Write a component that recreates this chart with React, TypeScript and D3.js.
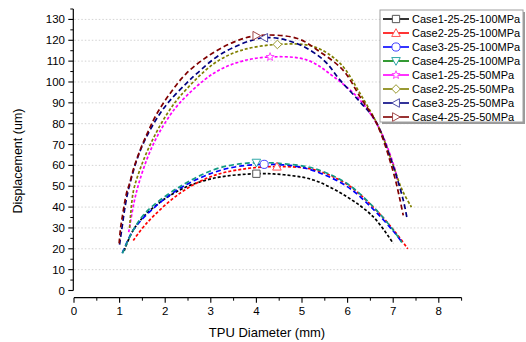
import React from "react";
import * as d3 from "d3";

const seriesNames = [
  "Case1-25-25-100MPa",
  "Case2-25-25-100MPa",
  "Case3-25-25-100MPa",
  "Case4-25-25-100MPa",
  "Case1-25-25-50MPa",
  "Case2-25-25-50MPa",
  "Case3-25-25-50MPa",
  "Case4-25-25-50MPa",
];

const c1_100_x = [1.1, 1.3, 1.67, 2.32, 3.05, 4.0, 4.6, 5.25, 5.98, 6.56, 7.0];
const c1_100_y = [19, 29, 38.5, 48.2, 53.8, 56, 55.5, 53, 45, 35.4, 22.6];
const c2_100_x = [1.3, 1.59, 2.32, 3.05, 3.8, 4.45, 5.25, 5.98, 6.56, 7.04, 7.32];
const c2_100_y = [24, 32.2, 46.6, 55, 58.5, 59.4, 58, 51, 40, 28.2, 20];
const c3_100_x = [1.06, 1.3, 1.67, 2.32, 3.05, 3.6, 4.17, 4.8, 5.25, 5.98, 6.56, 7.0, 7.2];
const c3_100_y = [18, 29, 38, 49, 56.5, 59.5, 60.5, 59.8, 57.5, 50, 39, 28.5, 23];
const c4_100_x = [1.06, 1.3, 1.59, 2.32, 3.05, 3.5, 4.0, 4.6, 5.25, 5.98, 6.56, 7.0, 7.19];
const c4_100_y = [17.8, 29, 37.8, 49.8, 57.8, 60.3, 61.3, 60.8, 58.6, 51.4, 40.2, 29, 23];
const c1_50_x = [1.2, 1.32, 1.43, 1.6, 1.78, 2.0, 2.32, 3.05, 3.64, 4.3, 5.1, 5.69, 6.27, 6.71, 7.04, 7.1];
const c1_50_y = [28, 42.6, 52, 63, 72, 80.5, 90, 104, 109.7, 112, 110.6, 102.6, 91.4, 77, 58, 52];
const c2_50_x = [1.22, 1.3, 1.43, 1.6, 1.81, 2.05, 2.32, 3.05, 3.64, 4.46, 5.25, 5.83, 6.27, 6.71, 7.0, 7.2, 7.4];
const c2_50_y = [30, 47.4, 57, 66.5, 76, 85, 93, 108.5, 115, 118, 117, 109, 94.6, 77, 60, 48, 40];
const c3_50_x = [1.0, 1.04, 1.16, 1.32, 1.47, 1.67, 1.89, 2.1, 2.47, 2.69, 3.27, 4.17, 4.88, 5.47, 5.83, 6.27, 6.6, 6.93, 7.22, 7.3];
const c3_50_y = [22, 28.2, 45, 58.6, 68, 77, 85, 91, 99.5, 104, 114, 121.2, 118.5, 110.6, 101, 90.5, 81.8, 64.2, 43.4, 35];
const c4_50_x = [0.99, 1.02, 1.06, 1.15, 1.22, 1.32, 1.48, 1.63, 1.81, 2.09, 2.46, 2.98, 3.49, 4.0, 4.88, 5.39, 5.9, 6.27, 6.64, 7.0, 7.15, 7.22];
const c4_50_y = [22.6, 29.8, 35.4, 46.6, 51.4, 59.4, 69, 76.5, 84.5, 94, 104, 113, 119, 122.2, 121, 114.5, 105.7, 93, 80, 57, 43.4, 36];

const seriesX = [c1_100_x, c2_100_x, c3_100_x, c4_100_x, c1_50_x, c2_50_x, c3_50_x, c4_50_x];
const seriesY = [c1_100_y, c2_100_y, c3_100_y, c4_100_y, c1_50_y, c2_50_y, c3_50_y, c4_50_y];
// marker positions (one per curve, near the peak)
const markerX = [4.0, 4.45, 4.17, 4.0, 4.3, 4.46, 4.17, 4.0];
const markerY = [56, 59.4, 60.5, 61.3, 112, 118, 121.2, 122.2];

const xTicks = [0, 1, 2, 3, 4, 5, 6, 7, 8];
const yTicks = [0, 10, 20, 30, 40, 50, 60, 70, 80, 90, 100, 110, 120, 130];

const lineColors = ["#000000", "#ff0000", "#0000ff", "#139a84", "#ff00ff", "#808000", "#000080", "#800000"];
const legendLineColors = ["#000000", "#ff0000", "#0000ff", "#008000", "#ff00ff", "#808000", "#000080", "#800000"];
const markerColors = ["#555555", "#ff5555", "#4040ff", "#30a8a8", "#ff40ff", "#9a9a30", "#5050a8", "#a04848"];
const markerShapes = ["square", "triangle", "circle", "triangleDown", "star", "diamond", "triangleLeft", "triangleRight"];
const dashes = ["3,2", "3,2", "5,3", "5,3", "3,2", "3,2", "5,3", "5,3"];

function markerPath(shape: string, cx: number, cy: number, r: number): string {
  const p = d3.path();
  if (shape === "square") {
    p.rect(cx - r * 0.85, cy - r * 0.85, r * 1.7, r * 1.7);
  } else if (shape === "circle") {
    p.arc(cx, cy, r * 0.95, 0, Math.PI * 2);
  } else if (shape === "triangle") {
    p.moveTo(cx, cy - r); p.lineTo(cx + r, cy + r * 0.8); p.lineTo(cx - r, cy + r * 0.8); p.closePath();
  } else if (shape === "triangleDown") {
    p.moveTo(cx, cy + r); p.lineTo(cx + r, cy - r * 0.8); p.lineTo(cx - r, cy - r * 0.8); p.closePath();
  } else if (shape === "triangleLeft") {
    p.moveTo(cx - r, cy); p.lineTo(cx + r * 0.8, cy - r); p.lineTo(cx + r * 0.8, cy + r); p.closePath();
  } else if (shape === "triangleRight") {
    p.moveTo(cx + r, cy); p.lineTo(cx - r * 0.8, cy - r); p.lineTo(cx - r * 0.8, cy + r); p.closePath();
  } else if (shape === "diamond") {
    p.moveTo(cx, cy - r); p.lineTo(cx + r, cy); p.lineTo(cx, cy + r); p.lineTo(cx - r, cy); p.closePath();
  } else if (shape === "star") {
    for (let i = 0; i < 10; i++) {
      const a = -Math.PI / 2 + (i * Math.PI) / 5;
      const rr = i % 2 === 0 ? r : r * 0.42;
      const px = cx + rr * Math.cos(a);
      const py = cy + rr * Math.sin(a);
      if (i === 0) p.moveTo(px, py); else p.lineTo(px, py);
    }
    p.closePath();
  }
  return p.toString();
}

export default function App() {
  const W = 526, H = 342;
  const x = d3.scaleLinear().domain([0, 8.5]).range([74, 461.6]);
  const y = d3.scaleLinear().domain([0, 135]).range([290.5, 9]);
  const axisY = 297.7;
  const axisX = 73.3;
  const font = "'Liberation Sans', Arial, sans-serif";

  const line = d3
    .line<[number, number]>()
    .x((d) => x(d[0]))
    .y((d) => y(d[1]))
    .curve(d3.curveCatmullRom.alpha(0.5));

  const xMinor = d3.range(0.5, 8.5, 1);
  const yMinor = d3.range(5, 136, 10);

  const legX = 380, legY = 10, legW = 143, legH = 112;

  return (
    <svg width={W} height={H} style={{ position: "absolute", left: 0, top: 0, background: "#fff" }}>
      <rect x={0} y={0} width={W} height={H} fill="#fff" />
      {/* gridlines */}
      {yTicks.filter((t) => t > 0).map((t) => (
        <line key={"g" + t} x1={axisX + 1} x2={461.6} y1={y(t)} y2={y(t)} stroke="#c8c8c8" strokeWidth={0.8} strokeDasharray="1.5,2" />
      ))}
      {/* y axis */}
      <line x1={axisX} x2={axisX} y1={y(0)} y2={y(135)} stroke="#000" strokeWidth={1.2} />
      {yTicks.map((t) => (
        <g key={"yt" + t}>
          <line x1={axisX - 5} x2={axisX} y1={y(t)} y2={y(t)} stroke="#000" strokeWidth={1.1} />
          <text x={65} y={y(t)} dy="0.35em" textAnchor="end" fontFamily={font} fontSize={11.5} fill="#000">{t}</text>
        </g>
      ))}
      {yMinor.map((t) => (
        <line key={"ym" + t} x1={axisX - 3} x2={axisX} y1={y(t)} y2={y(t)} stroke="#000" strokeWidth={1} />
      ))}
      {/* x axis */}
      <line x1={x(0)} x2={x(8.5)} y1={axisY} y2={axisY} stroke="#000" strokeWidth={1.2} />
      {xTicks.map((t) => (
        <g key={"xt" + t}>
          <line x1={x(t)} x2={x(t)} y1={axisY} y2={axisY + 5} stroke="#000" strokeWidth={1.1} />
          <text x={x(t)} y={315} textAnchor="middle" fontFamily={font} fontSize={11.5} fill="#000">{t}</text>
        </g>
      ))}
      {xMinor.map((t) => (
        <line key={"xm" + t} x1={x(t)} x2={x(t)} y1={axisY} y2={axisY + 3} stroke="#000" strokeWidth={1} />
      ))}
      <line x1={x(8.5)} x2={x(8.5)} y1={axisY} y2={axisY + 3} stroke="#000" strokeWidth={1} />
      {/* axis titles */}
      <text x={267} y={337} textAnchor="middle" fontFamily={font} fontSize={13} fill="#000">TPU Diameter (mm)</text>
      <text transform={`translate(22,161) rotate(-90)`} textAnchor="middle" fontFamily={font} fontSize={12.5} fill="#000">Displacement (um)</text>
      {/* curves */}
      {seriesX.map((xs, i) => {
        const pts: [number, number][] = xs.map((v, j) => [v, seriesY[i][j]]);
        return (
          <path key={"s" + i} d={line(pts) || ""} fill="none" stroke={lineColors[i]} strokeWidth={1.7} strokeDasharray={dashes[i]} />
        );
      })}
      {markerX.map((mx, i) => (
        <path key={"m" + i} d={markerPath(markerShapes[i], x(mx), y(markerY[i]), 4.3)} fill="#fff" stroke={markerColors[i]} strokeWidth={1} />
      ))}
      {/* legend */}
      <rect x={legX + 2} y={legY + 2} width={legW} height={legH} fill="#9a9a9a" />
      <rect x={legX} y={legY} width={legW} height={legH} fill="#fff" stroke="#a0a0a0" strokeWidth={1} />
      {seriesNames.map((name, i) => {
        const cy = legY + 9 + i * 14;
        return (
          <g key={"l" + i}>
            <line x1={383} x2={409} y1={cy} y2={cy} stroke={legendLineColors[i]} strokeWidth={1.6} />
            <path d={markerPath(markerShapes[i], 396, cy, 4.3)} fill="#fff" stroke={markerColors[i]} strokeWidth={1} />
            <text x={412} y={cy} dy="0.36em" fontFamily={font} fontSize={11} fill="#000">{name}</text>
          </g>
        );
      })}
    </svg>
  );
}
